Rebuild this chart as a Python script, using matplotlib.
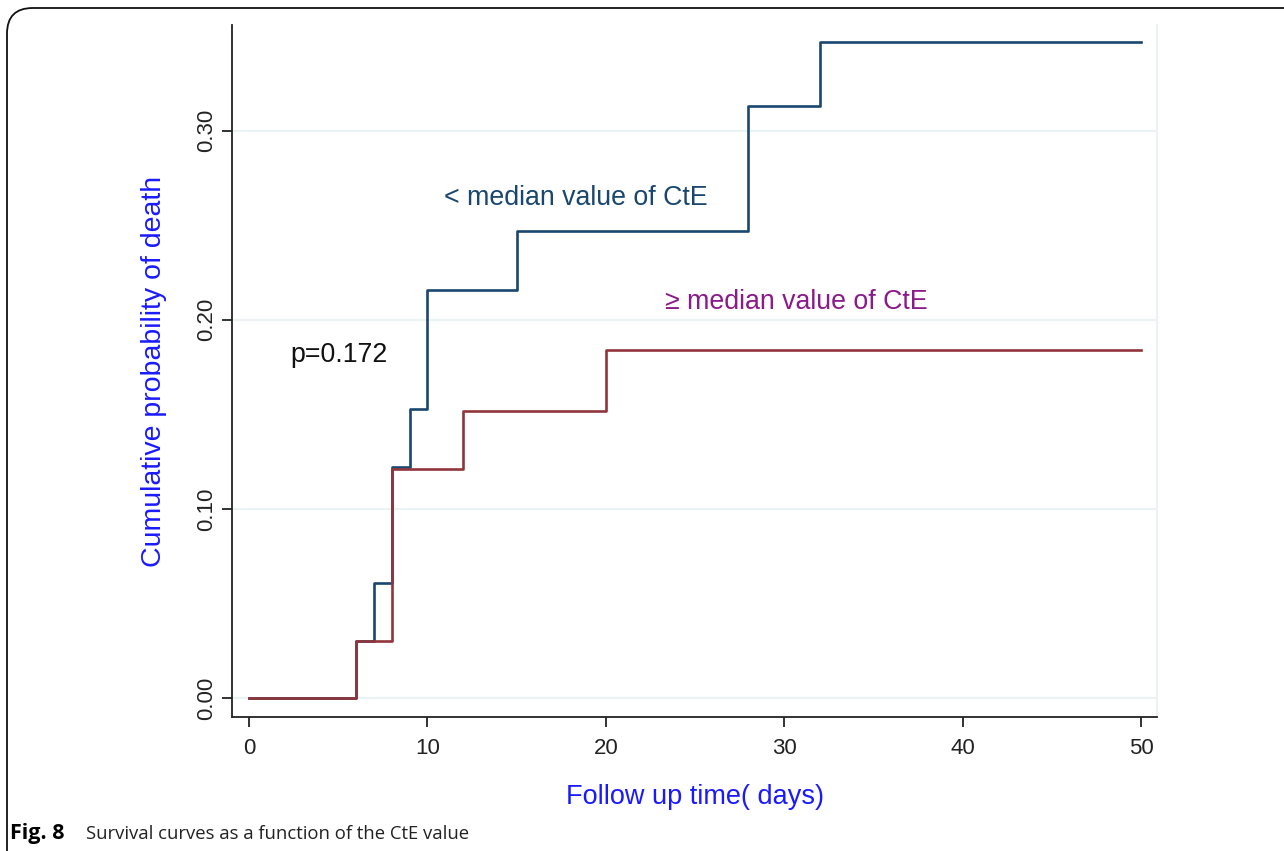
import matplotlib
matplotlib.use("Agg")
import matplotlib.pyplot as plt
from matplotlib.patches import FancyBboxPatch

plt.rcParams["font.family"] = ["Liberation Sans", "DejaVu Sans"]

# Kaplan-Meier cumulative probability of death (step after each time)
low_time = [0, 6, 7, 8, 9, 10, 15, 28, 32, 50]
low_prob = [0.0, 0.030, 0.061, 0.122, 0.153, 0.216, 0.247, 0.313, 0.347, 0.347]

high_time = [0, 6, 8, 12, 20, 50]
high_prob = [0.0, 0.030, 0.121, 0.152, 0.184, 0.184]

x_ticks = [0, 10, 20, 30, 40, 50]
y_ticks = [0.0, 0.1, 0.2, 0.3]
y_ticklabels = ["0.00", "0.10", "0.20", "0.30"]

navy = "#1a476f"
maroon = "#90353b"
grid_col = "#eaf2f3"

fig = plt.figure(figsize=(12.84, 8.51), dpi=100)
ax = fig.add_axes([0.1807, 0.1575, 0.9011 - 0.1807, 0.9706 - 0.1575])

for y in y_ticks:
    ax.axhline(y, color=grid_col, lw=1.5, zorder=0)

ax.step(low_time, low_prob, where="post", color=navy, lw=1.9, zorder=2)
ax.step(high_time, high_prob, where="post", color=maroon, lw=1.9, zorder=3)

ax.set_xlim(-0.95, 50.9)
ax.set_ylim(-0.0101, 0.356)

ax.spines["top"].set_visible(False)
ax.spines["right"].set_color(grid_col)
ax.spines["right"].set_linewidth(1.5)
ax.spines["left"].set_color("#222222")
ax.spines["bottom"].set_color("#222222")
ax.spines["left"].set_linewidth(1.3)
ax.spines["bottom"].set_linewidth(1.3)

ax.set_xticks(x_ticks)
ax.set_yticks(y_ticks)
ax.set_yticklabels(y_ticklabels, rotation=90, va="center")
ax.tick_params(axis="both", direction="out", length=7, width=1.3,
               color="#222222", labelsize=16, labelcolor="#222222")
ax.tick_params(axis="x", pad=8)
ax.tick_params(axis="y", pad=4)

ax.set_xlabel("Follow up time( days)", color="#1a1aff", fontsize=19.5, labelpad=18)
ax.set_ylabel("Cumulative probability of death", color="#1a1aff", fontsize=20.5, labelpad=21)

ax.text(10.93, 0.2646, "< median value of CtE", color=navy, fontsize=19.3,
        ha="left", va="center")
ax.text(23.3, 0.2095, "\u2265 median value of CtE", color="#8b1a8b", fontsize=19.3,
        ha="left", va="center")
ax.text(2.3, 0.1815, "p=0.172", color="#111111", fontsize=19.3,
        ha="left", va="center")

# caption
cap_y = 1 - 834 / 851
fig.text(10 / 1284, cap_y, "Fig. 8", fontsize=15.5, fontweight="bold",
         family=["Open Sans", "DejaVu Sans"], ha="left", va="center")
fig.text(86 / 1284, cap_y, "Survival curves as a function of the CtE value",
         fontsize=13.3, family=["Open Sans", "DejaVu Sans"],
         ha="left", va="center", color="#222222")

# rounded frame, open on the right and bottom
frame = FancyBboxPatch((7 / 1284, -0.2), 1.3, 1 - 8 / 851 + 0.2,
                       boxstyle="round,pad=0,rounding_size=0.02",
                       transform=fig.transFigure, fill=False,
                       edgecolor="#111111", lw=1.3, mutation_aspect=1284 / 851)
fig.patches.append(frame)

fig.savefig("out.png", dpi=100)
